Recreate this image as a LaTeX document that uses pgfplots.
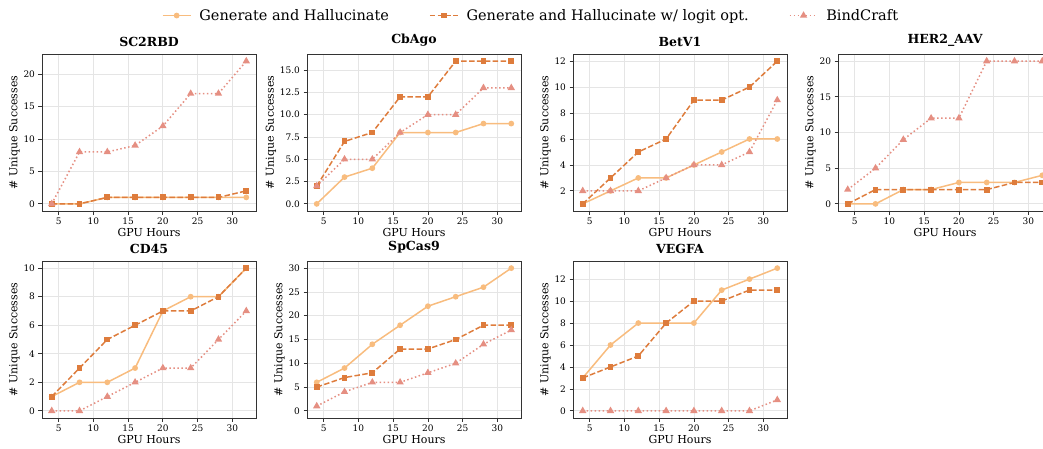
\documentclass[border=0pt]{standalone}
\usepackage{fontspec}
\setmainfont{DejaVu Serif}
\usepackage{pgfplots}
\pgfplotsset{compat=1.18}
\definecolor{cGH}{HTML}{F8BC7E}
\definecolor{cLO}{HTML}{DE7C3C}
\definecolor{cBC}{HTML}{E58F82}
\pgfplotsset{
  base/.style={
    scale only axis, width=214pt, height=157pt,
    anchor=north west,
    xmin=2.6, xmax=33.4, xtick={5,10,...,30},
    tick pos=left, tick align=outside, major tick length=3.5pt,
    grid=major, grid style={black!10, line width=0.8pt},
    axis line style={black!80, line width=0.9pt},
    tick style={black!80, line width=0.8pt},
    ticklabel style={font=\fontsize{9}{9}\selectfont},
    label style={font=\fontsize{11}{11}\selectfont},
    title style={font=\bfseries\fontsize{12.5}{12.5}\selectfont, yshift=-2pt},
    xlabel={GPU Hours}, ylabel={\# Unique Successes},
    xlabel style={yshift=3pt}, ylabel style={yshift=-3pt},
    /pgf/number format/assume math mode=true,
  },
  gh/.style={color=cGH, line width=1.5pt, solid, mark=*, mark size=2.1pt, mark options={solid}},
  lo/.style={color=cLO, line width=1.5pt, dash pattern=on 5.5pt off 2.4pt, mark=square*, mark size=2.2pt, mark options={solid}},
  bc/.style={color=cBC, line width=1.5pt, dash pattern=on 1.5pt off 2.5pt, mark=triangle*, mark size=2.8pt, mark options={solid}},
}
\begin{document}
\begin{tikzpicture}[x=1pt,y=1pt]
\useasboundingbox (0,0) rectangle (1043,-448);
\clip (0,0) rectangle (1043,-448);
% SC2RBD
\begin{axis}[base, at={(42pt,-54pt)}, title={SC2RBD}, ymin=-1.1, ymax=23.1, ytick={0,5,...,20},
  legend style={at={(2.285,1.245)}, anchor=center, draw=none, fill=none, legend columns=3,
    font=\fontsize{14.5}{14.5}\selectfont,
    /tikz/every odd column/.append style={column sep=6pt},
    /tikz/every even column/.append style={column sep=38pt}},
  legend image code/.code={\draw[mark repeat=2,mark phase=2,#1] plot coordinates {(0pt,0pt) (14pt,0pt) (28pt,0pt)};}]
\addplot[gh] coordinates {(4,0)(8,0)(12,1)(16,1)(20,1)(24,1)(28,1)(32,1)};
\addlegendentry{Generate and Hallucinate}
\addplot[lo] coordinates {(4,0)(8,0)(12,1)(16,1)(20,1)(24,1)(28,1)(32,2)};
\addlegendentry{Generate and Hallucinate w/ logit opt.}
\addplot[bc] coordinates {(4,0)(8,8)(12,8)(16,9)(20,12)(24,17)(28,17)(32,22)};
\addlegendentry{BindCraft}
\end{axis}
% CbAgo
\begin{axis}[base, at={(307pt,-54pt)}, title={CbAgo}, ymin=-0.8, ymax=16.8, ytick={0,2.5,...,15},
  yticklabel style={/pgf/number format/.cd, fixed, fixed zerofill, precision=1}]
\addplot[gh] coordinates {(4,0)(8,3)(12,4)(16,8)(20,8)(24,8)(28,9)(32,9)};
\addplot[lo] coordinates {(4,2)(8,7)(12,8)(16,12)(20,12)(24,16)(28,16)(32,16)};
\addplot[bc] coordinates {(4,2)(8,5)(12,5)(16,8)(20,10)(24,10)(28,13)(32,13)};
\end{axis}
% BetV1
\begin{axis}[base, at={(573pt,-54pt)}, title={BetV1}, ymin=0.45, ymax=12.55, ytick={2,4,...,12}]
\addplot[gh] coordinates {(4,1)(8,2)(12,3)(16,3)(20,4)(24,5)(28,6)(32,6)};
\addplot[lo] coordinates {(4,1)(8,3)(12,5)(16,6)(20,9)(24,9)(28,10)(32,12)};
\addplot[bc] coordinates {(4,2)(8,2)(12,2)(16,3)(20,4)(24,4)(28,5)(32,9)};
\end{axis}
% HER2_AAV
\begin{axis}[base, at={(838pt,-54pt)}, title={HER2\_AAV}, ymin=-1, ymax=21, ytick={0,5,...,20}]
\addplot[gh] coordinates {(4,0)(8,0)(12,2)(16,2)(20,3)(24,3)(28,3)(32,4)};
\addplot[lo] coordinates {(4,0)(8,2)(12,2)(16,2)(20,2)(24,2)(28,3)(32,3)};
\addplot[bc] coordinates {(4,2)(8,5)(12,9)(16,12)(20,12)(24,20)(28,20)(32,20)};
\end{axis}
% CD45
\begin{axis}[base, at={(42pt,-261pt)}, title={CD45}, ymin=-0.5, ymax=10.5, ytick={0,2,...,10}]
\addplot[gh] coordinates {(4,1)(8,2)(12,2)(16,3)(20,7)(24,8)(28,8)(32,10)};
\addplot[lo] coordinates {(4,1)(8,3)(12,5)(16,6)(20,7)(24,7)(28,8)(32,10)};
\addplot[bc] coordinates {(4,0)(8,0)(12,1)(16,2)(20,3)(24,3)(28,5)(32,7)};
\end{axis}
% SpCas9
\begin{axis}[base, at={(307pt,-261pt)}, title={SpCas9}, ymin=-1.5, ymax=31.5, ytick={0,5,...,30}]
\addplot[gh] coordinates {(4,6)(8,9)(12,14)(16,18)(20,22)(24,24)(28,26)(32,30)};
\addplot[lo] coordinates {(4,5)(8,7)(12,8)(16,13)(20,13)(24,15)(28,18)(32,18)};
\addplot[bc] coordinates {(4,1)(8,4)(12,6)(16,6)(20,8)(24,10)(28,14)(32,17)};
\end{axis}
% VEGFA
\begin{axis}[base, at={(573pt,-261pt)}, title={VEGFA}, ymin=-0.65, ymax=13.65, ytick={0,2,...,12}]
\addplot[gh] coordinates {(4,3)(8,6)(12,8)(16,8)(20,8)(24,11)(28,12)(32,13)};
\addplot[lo] coordinates {(4,3)(8,4)(12,5)(16,8)(20,10)(24,10)(28,11)(32,11)};
\addplot[bc] coordinates {(4,0)(8,0)(12,0)(16,0)(20,0)(24,0)(28,0)(32,1)};
\end{axis}
\end{tikzpicture}
\end{document}
